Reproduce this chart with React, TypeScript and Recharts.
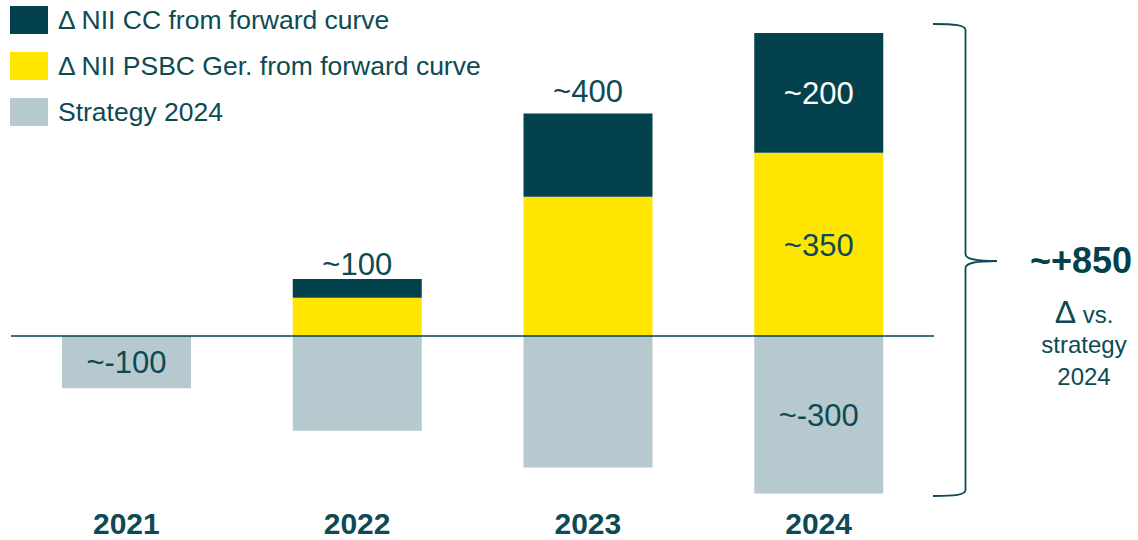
import { BarChart, Bar, XAxis, YAxis, ReferenceLine, LabelList } from 'recharts';

const years = ['2021', '2022', '2023', '2024'];
const strategy = [-100, -181, -251, -301];
const psbcGer = [0, 73, 266, 350];
const ccNii = [0, 36, 159, 229];

const topLabels = ['', '~100', '~400', ''];
const ccLabels = ['', '', '', '~200'];
const psbcLabels = ['', '', '', '~350'];
const strategyLabels = ['~-100', '', '', '~-300'];
// gap between the total label and top of the stack, per year
const topLabelGap = [0, 4, 12, 0];

const seriesNames = [
  'Δ NII CC from forward curve',
  'Δ NII PSBC Ger. from forward curve',
  'Strategy 2024',
];

const DARK = '#03424C';
const YELLOW = '#FFE600';
const GREY = '#B6C9CF';
const TEXT = '#0D4A54';
const FONT = '"Liberation Sans", Arial, sans-serif';

const data = years.map((year, i) => ({
  year,
  strategy: strategy[i],
  psbc: psbcGer[i],
  cc: ccNii[i],
  top: topLabels[i],
  ccLabel: ccLabels[i],
  psbcLabel: psbcLabels[i],
  strategyLabel: strategyLabels[i],
}));

const box = (p: any) => {
  const vb = p.viewBox && p.viewBox.width !== undefined ? p.viewBox : p;
  return { x: Number(vb.x), y: Number(vb.y), width: Number(vb.width), height: Number(vb.height) };
};

const insideLabel = (color: string) => (props: any) => {
  if (!props.value) return null;
  const { x, y, width, height } = box(props);
  return (
    <text
      x={x + width / 2}
      y={y + height / 2}
      dy="0.36em"
      textAnchor="middle"
      fill={color}
      fontSize={31}
      fontFamily={FONT}
    >
      {props.value}
    </text>
  );
};

const topLabel = (props: any) => {
  if (!props.value) return null;
  const { x, y, width, height } = box(props);
  const top = Math.min(y, y + height);
  const idx = topLabels.indexOf(props.value);
  return (
    <text
      x={x + width / 2}
      y={top - topLabelGap[idx]}
      textAnchor="middle"
      fill={TEXT}
      fontSize={31}
      fontFamily={FONT}
    >
      {props.value}
    </text>
  );
};

const YearTick = ({ x, y, payload }: any) => (
  <text x={x} y={y} dy={30} textAnchor="middle" fill={TEXT} fontSize={30} fontWeight="bold" fontFamily={FONT}>
    {payload.value}
  </text>
);

export default function App() {
  const colors = [DARK, YELLOW, GREY];
  return (
    <div style={{ position: 'absolute', left: 0, top: 0, width: 1138, height: 540, background: '#fff', fontFamily: FONT }}>
      <BarChart
        width={1138}
        height={540}
        data={data}
        stackOffset="sign"
        barSize={129}
        margin={{ top: 22, right: 204, bottom: 0, left: 11 }}
      >
        <XAxis
          dataKey="year"
          axisLine={false}
          tickLine={false}
          tickSize={0}
          tickMargin={0}
          height={36.5}
          tick={<YearTick />}
          interval={0}
        />
        <YAxis hide domain={[-320, 600]} />
        <Bar dataKey="strategy" stackId="a" fill={GREY} isAnimationActive={false}>
          <LabelList dataKey="strategyLabel" content={insideLabel(TEXT)} />
        </Bar>
        <Bar dataKey="psbc" stackId="a" fill={YELLOW} isAnimationActive={false}>
          <LabelList dataKey="psbcLabel" content={insideLabel(TEXT)} />
        </Bar>
        <Bar dataKey="cc" stackId="a" fill={DARK} isAnimationActive={false}>
          <LabelList dataKey="ccLabel" content={insideLabel('#ffffff')} />
          <LabelList dataKey="top" content={topLabel} />
        </Bar>
        <ReferenceLine y={0} stroke={DARK} strokeWidth={1.5} />
      </BarChart>

      {/* legend */}
      <div style={{ position: 'absolute', left: 10, top: 6 }}>
        {seriesNames.map((name, i) => (
          <div key={name} style={{ display: 'flex', alignItems: 'center', height: 28, marginBottom: 18 }}>
            <div style={{ width: 38, height: 28, background: colors[i] }} />
            <span style={{ marginLeft: 10, fontSize: 26.5, color: TEXT, lineHeight: '28px', whiteSpace: 'nowrap' }}>{name}</span>
          </div>
        ))}
      </div>

      {/* bracket and total delta */}
      <svg width={1138} height={540} style={{ position: 'absolute', left: 0, top: 0, pointerEvents: 'none' }}>
        <path
          d="M 933 24 C 955 24, 965.5 25, 965.5 30 L 965.5 254 C 965.5 259, 975 261, 997 261 C 975 261, 965.5 263, 965.5 268 L 965.5 490 C 965.5 495, 955 496, 933 496"
          fill="none"
          stroke={TEXT}
          strokeWidth={1.8}
        />
        <text x={1081} y={273} textAnchor="middle" fill={DARK} fontSize={36} fontWeight="bold" fontFamily={FONT}>
          ~+850
        </text>
        <text x={1084} y={323} textAnchor="middle" fill={TEXT} fontSize={24} fontFamily={FONT}>
          <tspan fontSize={32}>Δ</tspan> vs.
        </text>
        <text x={1084} y={353} textAnchor="middle" fill={TEXT} fontSize={24} fontFamily={FONT}>
          strategy
        </text>
        <text x={1084} y={385} textAnchor="middle" fill={TEXT} fontSize={24} fontFamily={FONT}>
          2024
        </text>
      </svg>
    </div>
  );
}
